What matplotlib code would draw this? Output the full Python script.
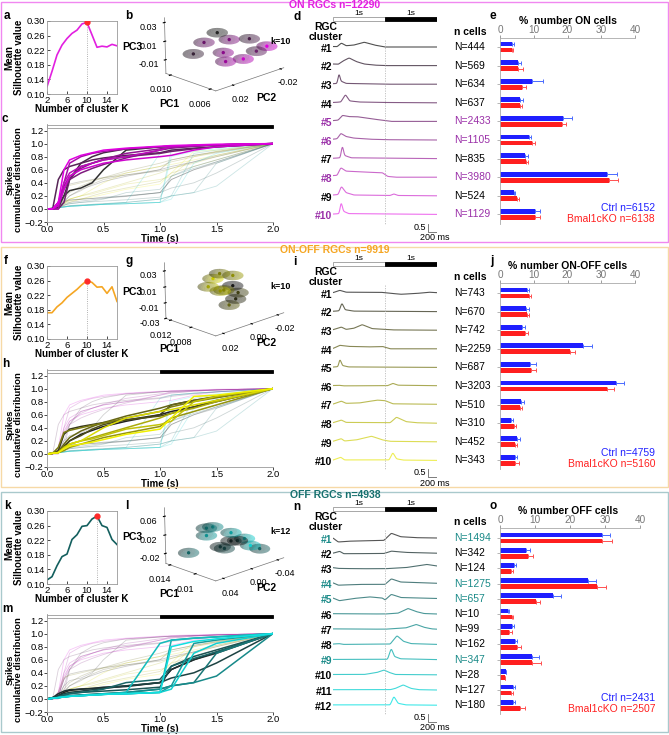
import numpy as np
import matplotlib
matplotlib.use("Agg")
import matplotlib.pyplot as plt
from matplotlib.colors import to_rgb
from matplotlib.patches import Rectangle
import matplotlib.transforms as mtransforms

plt.rcParams['font.family'] = ['Liberation Sans', 'DejaVu Sans']
plt.rcParams['font.size'] = 7

W, H = 669, 735

# ---------------- data ----------------
K = list(range(2, 17))
on_sil = [0.12, 0.162, 0.207, 0.234, 0.252, 0.266, 0.275, 0.292, 0.296, 0.262, 0.228, 0.231, 0.229, 0.236, 0.232]
onoff_sil = [0.172, 0.172, 0.188, 0.199, 0.214, 0.225, 0.236, 0.249, 0.26, 0.255, 0.242, 0.243, 0.225, 0.243, 0.203]
off_sil = [0.111, 0.12, 0.15, 0.175, 0.182, 0.222, 0.235, 0.258, 0.26, 0.278, 0.286, 0.26, 0.255, 0.222, 0.208]
best_k = [10, 10, 12]

on_n = [444, 569, 634, 637, 2433, 1105, 835, 3980, 524, 1129]
onoff_n = [743, 670, 742, 2259, 687, 3203, 510, 310, 452, 343]
off_n = [1494, 342, 124, 1275, 657, 10, 99, 162, 347, 28, 127, 180]

on_hl = [5, 6, 8, 10]
onoff_hl = []
off_hl = [1, 4, 5, 9]

on_ctrl = [3.5, 5.2, 9.6, 5.9, 18.8, 8.7, 7.5, 31.7, 4.0, 10.4]
on_ctrl_err = [0.6, 1.0, 3.2, 0.8, 2.5, 0.6, 0.9, 3.0, 0.5, 1.5]
on_ko = [3.5, 5.4, 6.4, 5.9, 18.3, 9.6, 7.6, 32.2, 5.0, 10.4]
on_ko_err = [0.4, 1.3, 1.4, 0.6, 1.3, 0.9, 0.7, 2.9, 0.6, 1.5]

onoff_ctrl = [7.9, 7.7, 6.6, 24.5, 8.9, 34.4, 6.1, 3.4, 5.1, 4.5]
onoff_ctrl_err = [0.8, 1.0, 0.9, 2.9, 1.7, 2.3, 1.0, 0.4, 0.7, 0.6]
onoff_ko = [8.5, 7.9, 7.5, 20.8, 9.1, 31.8, 6.0, 4.0, 4.5, 4.5]
onoff_ko_err = [0.6, 0.8, 0.8, 1.3, 1.6, 2.1, 0.6, 0.7, 0.6, 1.1]

off_ctrl = [29.0, 7.5, 3.9, 25.0, 15.1, 2.4, 3.4, 4.2, 9.1, 1.6, 3.8, 3.6]
off_ctrl_err = [2.4, 1.0, 0.8, 2.3, 2.2, 0.3, 0.7, 0.6, 2.1, 0.2, 0.6, 0.7]
off_ko = [29.2, 8.0, 3.2, 27.7, 10.3, 3.5, 2.7, 4.8, 9.1, 1.3, 3.2, 5.7]
off_ko_err = [2.7, 1.4, 0.5, 2.6, 1.1, 0.3, 0.6, 1.1, 2.5, 0.2, 0.4, 1.3]

n_ctrl = [6152, 4759, 2431]
n_ko = [6138, 5160, 2507]
n_total = [12290, 9919, 4938]

# response traces: (time s, normalised response) knots
on_traces = [
    [(0, 0.03), (0.08, 0.02), (0.16, 0.25), (0.25, 0.08), (0.4, 0.12), (0.6, 0.3), (0.8, 0.12), (1.0, 0.0), (2, 0.0)],
    [(0, 0.1), (0.1, 0.08), (0.2, 0.3), (0.31, 0.48), (0.45, 0.25), (0.6, 0.1), (0.8, 0.03), (1.0, 0.0), (2, 0.0)],
    [(0, 0.03), (0.08, 0.05), (0.115, 0.75), (0.15, 0.2), (0.25, 0.05), (1.0, 0.0), (2, 0.0)],
    [(0, 0.02), (0.15, 0.05), (0.24, 0.52), (0.32, 0.12), (0.5, 0.05), (1.0, 0.02), (2, 0.0)],
    [(0, 0.05), (0.1, 0.08), (0.18, 0.38), (0.3, 0.3), (0.45, 0.3), (0.7, 0.18), (1.0, 0.05), (1.1, 0.0), (2, 0.0)],
    [(0, 0.05), (0.08, 0.08), (0.15, 0.42), (0.25, 0.22), (0.4, 0.12), (0.7, 0.05), (1.0, 0.02), (2, 0.0)],
    [(0, 0.02), (0.14, 0.05), (0.18, 0.88), (0.22, 0.2), (0.35, 0.05), (2, 0.0)],
    [(0, 0.1), (0.08, 0.12), (0.15, 0.6), (0.25, 0.38), (0.6, 0.32), (0.95, 0.28), (1.05, 0.05), (1.2, 0.0), (2, 0.0)],
    [(0, 0.05), (0.1, 0.08), (0.16, 0.6), (0.25, 0.2), (0.4, 0.05), (1.1, 0.02), (1.17, 0.12), (1.25, 0.02), (2, 0.0)],
    [(0, 0.02), (0.12, 0.05), (0.155, 0.83), (0.2, 0.2), (0.3, 0.05), (2, 0.0)],
]
onoff_traces = [
    [(0, 0.02), (0.13, 0.17), (0.25, 0.05), (0.9, 0.05), (1.0, 0.02), (1.3, -0.08), (1.6, -0.03), (1.85, 0.05), (2, 0.02)],
    [(0, 0.02), (0.12, 0.05), (0.17, 0.56), (0.23, 0.12), (0.4, 0.03), (1.0, 0.02), (2, 0.0)],
    [(0, 0.03), (0.16, 0.2), (0.25, 0.05), (0.4, 0.12), (0.56, 0.35), (0.75, 0.1), (1.0, 0.05), (1.1, 0.02), (2, 0.0)],
    [(0, 0.02), (0.13, 0.22), (0.3, 0.15), (0.7, 0.12), (0.95, 0.15), (1.1, 0.0), (2, 0.0)],
    [(0, 0.02), (0.1, 0.05), (0.13, 0.56), (0.18, 0.12), (0.3, 0.03), (2, 0.0)],
    [(0, 0.03), (0.1, 0.05), (0.2, 0.01), (1.05, 0.02), (1.15, 0.17), (1.25, 0.05), (2, 0.02)],
    [(0, 0.03), (0.16, 0.22), (0.25, 0.08), (0.5, 0.1), (0.85, 0.28), (1.0, 0.25), (1.15, 0.05), (2, 0.02)],
    [(0, 0.03), (0.16, 0.2), (0.25, 0.05), (1.1, 0.03), (1.22, 0.38), (1.4, 0.1), (1.6, 0.03), (2, 0.0)],
    [(0, 0.03), (0.16, 0.2), (0.22, 0.05), (0.45, 0.12), (0.74, 0.35), (0.95, 0.12), (1.1, 0.03), (2, 0.0)],
    [(0, 0.02), (0.15, 0.2), (0.22, 0.03), (1.08, 0.03), (1.15, 0.5), (1.22, 0.1), (1.35, 0.02), (2, 0.0)],
]
off_traces = [
    [(0, 0.0), (0.1, -0.25), (0.3, -0.2), (0.98, -0.15), (1.12, 0.3), (1.3, 0.08), (1.6, 0.02), (2, 0.0)],
    [(0, 0.0), (0.13, 0.12), (0.2, -0.03), (0.98, -0.02), (1.12, 0.13), (1.4, 0.05), (2, 0.0)],
    [(0, 0.05), (0.1, 0.0), (0.5, -0.02), (1.0, -0.02), (1.4, 0.05), (1.8, 0.25), (2, 0.15)],
    [(0, 0.05), (0.1, -0.1), (0.5, -0.05), (1.0, -0.05), (1.12, 0.3), (1.3, 0.1), (2, 0.02)],
    [(0, 0.05), (0.12, -0.12), (0.4, 0.02), (0.7, 0.12), (0.95, 0.05), (1.0, -0.08), (1.12, 0.28), (1.3, 0.08), (2, 0.02)],
    [(0, 0.02), (1.0, 0.0), (1.25, 0.05), (1.44, 0.35), (1.6, 0.15), (1.75, 0.03), (2, 0.0)],
    [(0, 0.02), (1.0, 0.0), (1.4, 0.08), (1.6, 0.3), (1.75, 0.12), (1.9, 0.02), (2, 0.0)],
    [(0, 0.02), (0.12, 0.05), (0.2, 0.0), (1.1, 0.02), (1.23, 0.55), (1.35, 0.2), (1.5, 0.05), (2, 0.0)],
    [(0, 0.01), (1.05, 0.02), (1.12, 0.72), (1.18, 0.2), (1.3, 0.05), (2, 0.0)],
    [(0, 0.02), (0.6, 0.02), (0.85, 0.15), (0.98, 0.3), (1.08, 0.15), (1.2, 0.02), (2, 0.0)],
    [(0, 0.02), (1.1, 0.02), (1.2, 0.1), (1.35, 0.32), (1.5, 0.1), (1.65, 0.02), (2, 0.0)],
    [(0, 0.02), (1.1, 0.02), (1.17, 0.56), (1.25, 0.12), (1.4, 0.02), (2, 0.0)],
]

# cumulative spike distributions
cum_t = [0, 0.05, 0.1, 0.15, 0.2, 0.3, 0.4, 0.5, 0.7, 1.0, 1.1, 1.3, 1.5, 2.0]
on_cum = [
    [0, 0, 0.05, 0.2, 0.28, 0.32, 0.4, 0.6, 0.9, 0.95, 0.96, 0.97, 0.98, 1.0],
    [0, 0, 0.02, 0.2, 0.45, 0.7, 0.8, 0.86, 0.92, 0.95, 0.96, 0.97, 0.98, 1.0],
    [0, 0, 0.45, 0.6, 0.65, 0.7, 0.75, 0.78, 0.82, 0.86, 0.9, 0.93, 0.95, 1.0],
    [0, 0, 0, 0.1, 0.45, 0.65, 0.7, 0.75, 0.8, 0.85, 0.88, 0.92, 0.95, 1.0],
    [0, 0, 0.05, 0.3, 0.45, 0.55, 0.62, 0.68, 0.78, 0.9, 0.93, 0.96, 0.98, 1.0],
    [0, 0, 0.1, 0.35, 0.5, 0.62, 0.7, 0.76, 0.85, 0.92, 0.94, 0.96, 0.98, 1.0],
    [0, 0, 0, 0.4, 0.7, 0.8, 0.85, 0.88, 0.92, 0.95, 0.96, 0.97, 0.98, 1.0],
    [0, 0, 0.1, 0.4, 0.55, 0.65, 0.7, 0.75, 0.8, 0.9, 0.95, 0.97, 0.98, 1.0],
    [0, 0, 0.05, 0.3, 0.5, 0.6, 0.65, 0.7, 0.75, 0.8, 0.82, 0.9, 0.95, 1.0],
    [0, 0, 0.1, 0.6, 0.75, 0.82, 0.86, 0.9, 0.93, 0.96, 0.97, 0.98, 0.99, 1.0],
]
onoff_cum = [
    [0, 0.01, 0.03, 0.1, 0.2, 0.3, 0.36, 0.42, 0.5, 0.6, 0.65, 0.72, 0.8, 1.0],
    [0, 0.01, 0.05, 0.3, 0.38, 0.42, 0.45, 0.48, 0.52, 0.6, 0.75, 0.82, 0.87, 1.0],
    [0, 0.01, 0.03, 0.12, 0.2, 0.28, 0.38, 0.45, 0.52, 0.58, 0.62, 0.72, 0.82, 1.0],
    [0, 0.01, 0.03, 0.15, 0.25, 0.35, 0.42, 0.48, 0.58, 0.7, 0.75, 0.82, 0.88, 1.0],
    [0, 0.01, 0.1, 0.33, 0.36, 0.4, 0.44, 0.47, 0.55, 0.65, 0.72, 0.8, 0.86, 1.0],
    [0, 0.01, 0.02, 0.05, 0.1, 0.15, 0.2, 0.25, 0.32, 0.42, 0.55, 0.65, 0.75, 1.0],
    [0, 0.01, 0.02, 0.1, 0.15, 0.2, 0.25, 0.3, 0.4, 0.55, 0.62, 0.7, 0.8, 1.0],
    [0, 0.01, 0.02, 0.1, 0.15, 0.2, 0.23, 0.28, 0.38, 0.45, 0.5, 0.8, 0.88, 1.0],
    [0, 0.01, 0.02, 0.08, 0.15, 0.2, 0.3, 0.4, 0.55, 0.65, 0.68, 0.75, 0.82, 1.0],
    [0, 0.01, 0.02, 0.08, 0.12, 0.15, 0.18, 0.22, 0.3, 0.38, 0.55, 0.88, 0.9, 1.0],
]
off_cum = [
    [0, 0.02, 0.05, 0.1, 0.13, 0.15, 0.16, 0.17, 0.19, 0.25, 0.45, 0.6, 0.72, 1.0],
    [0, 0.02, 0.08, 0.12, 0.14, 0.15, 0.16, 0.18, 0.2, 0.25, 0.45, 0.6, 0.7, 1.0],
    [0, 0.02, 0.05, 0.08, 0.1, 0.12, 0.14, 0.16, 0.2, 0.25, 0.32, 0.4, 0.55, 1.0],
    [0, 0.01, 0.03, 0.06, 0.08, 0.1, 0.11, 0.12, 0.14, 0.18, 0.5, 0.65, 0.75, 1.0],
    [0, 0.01, 0.03, 0.06, 0.08, 0.1, 0.12, 0.15, 0.25, 0.3, 0.5, 0.62, 0.72, 1.0],
    [0, 0.01, 0.02, 0.04, 0.05, 0.06, 0.07, 0.08, 0.1, 0.15, 0.2, 0.25, 0.7, 1.0],
    [0, 0.01, 0.02, 0.03, 0.05, 0.06, 0.07, 0.08, 0.1, 0.15, 0.2, 0.25, 0.35, 1.0],
    [0, 0.01, 0.02, 0.03, 0.04, 0.05, 0.06, 0.07, 0.08, 0.1, 0.2, 0.85, 0.9, 1.0],
    [0, 0.01, 0.02, 0.03, 0.04, 0.05, 0.06, 0.07, 0.08, 0.1, 0.9, 0.93, 0.95, 1.0],
    [0, 0.01, 0.02, 0.03, 0.04, 0.05, 0.06, 0.07, 0.1, 0.85, 0.9, 0.93, 0.95, 1.0],
    [0, 0.01, 0.02, 0.03, 0.04, 0.05, 0.06, 0.07, 0.08, 0.1, 0.15, 0.7, 0.85, 1.0],
    [0, 0.01, 0.02, 0.03, 0.04, 0.05, 0.06, 0.07, 0.08, 0.1, 0.8, 0.88, 0.92, 1.0],
]

# PCA cluster centres (PC1, PC2, PC3)
on_pc1 = [0.00835, 0.00935, 0.0070, 0.0067, 0.0089, 0.00785, 0.0081, 0.0080, 0.00725, 0.00625]
on_pc2 = [0.0089, 0.0201, -0.0062, -0.0096, 0.0151, 0.0033, 0.0061, 0.0050, -0.0034, -0.0146]
on_pc3 = [0.017, -0.005, 0.009, -0.005, 0.007, 0.009, -0.005, -0.015, -0.013, 0.0]
onoff_pc1 = [0.00768, 0.00744, 0.00725, 0.00797, 0.00839, 0.00873, 0.00768, 0.00963, 0.00868, 0.00925]
onoff_pc2 = [-0.0030, -0.00425, -0.00525, -0.0015, 0.00075, 0.0025, -0.0030, 0.00725, 0.00225, 0.00525]
onoff_pc3 = [0.008, -0.009, -0.001, -0.0165, 0.003, 0.024, 0.021, 0.008, 0.002, 0.018]
off_pc1 = [0.01008, 0.0105, 0.0112, 0.01093, 0.00862, 0.01324, 0.01208, 0.0117, 0.01208, 0.0105, 0.00923, 0.00962]
off_pc2 = [-0.010, -0.0045, 0.0045, 0.001, -0.029, 0.031, 0.016, 0.0105, 0.016, -0.0045, -0.021, -0.016]
off_pc3 = [0.001, 0.001, -0.011, -0.015, -0.019, -0.021, 0.031, 0.033, 0.015, 0.019, -0.011, 0.005]

# ---------------- helpers ----------------
fig = plt.figure(figsize=(W / 100, H / 100), dpi=100)


def rect(x0, y0, x1, y1):
    return [x0 / W, 1 - y1 / H, (x1 - x0) / W, (y1 - y0) / H]


def ftext(x, y, s, **kw):
    kw.setdefault('va', 'center')
    fig.text(x / W, 1 - y / H, s, **kw)


def blend(c0, c1, n):
    a, b = np.array(to_rgb(c0)), np.array(to_rgb(c1))
    return [tuple(a * (1 - f) + b * f) for f in np.linspace(0, 1, n)]


def smooth_trace(knots):
    t = np.linspace(0, 2, 401)
    kt, kv = zip(*knots)
    v = np.interp(t, kt, kv)
    g = np.exp(-0.5 * (np.arange(-6, 7) / 2.5) ** 2)
    g /= g.sum()
    v = np.convolve(np.pad(v, 6, mode='edge'), g, mode='valid')
    return t, v


sections = [
    dict(off=0, title='ON RGCs n=12290', tcol='#E21FE0', border='#F088F0',
         sil=on_sil, silcol='#E21FE0', letters='abcde', cum=on_cum,
         cmap=('#303030', '#E000E0'), tcmap=('#505050', '#EE70EE'),
         traces=on_traces, n=on_n, hl=on_hl, hlcol='#9A2FA8',
         ctrl=on_ctrl, ctrl_err=on_ctrl_err, ko=on_ko, ko_err=on_ko_err,
         xlabel='%  number ON cells', r0=47, s=18.6, x40=635,
         pc=(on_pc1, on_pc2, on_pc3), pcl=((0.0055, 0.0105), (-0.023, 0.033), (-0.025, 0.035)),
         pct=([0.006, 0.010], [-0.02, 0.02], [-0.01, 0.01, 0.03]),
         pcf=('%.3f', '%.2f', '%.2f')),
    dict(off=245, title='ON-OFF RGCs n=9919', tcol='#F5A623', border='#F6D9A6',
         sil=onoff_sil, silcol='#F5A623', letters='fghij', cum=onoff_cum,
         cmap=('#202020', '#F0F000'), tcmap=('#555555', '#EEEE55'),
         traces=onoff_traces, n=onoff_n, hl=onoff_hl, hlcol='k',
         ctrl=onoff_ctrl, ctrl_err=onoff_ctrl_err, ko=onoff_ko, ko_err=onoff_ko_err,
         xlabel='% number ON-OFF cells', r0=48, s=18.6, x40=635,
         pc=(onoff_pc1, onoff_pc2, onoff_pc3), pcl=((0.0035, 0.013), (-0.025, 0.025), (-0.03, 0.04)),
         pct=([0.008, 0.012], [-0.02, 0.00, 0.02], [-0.03, -0.01, 0.01, 0.03]),
         pcf=('%.3f', '%.2f', '%.2f')),
    dict(off=490, title='OFF RGCs n=4938', tcol='#16706E', border='#A9C9CC',
         sil=off_sil, silcol='#135F5E', letters='klmno', cum=off_cum,
         cmap=('#202020', '#10E0E0'), tcmap=('#555555', '#40E8E8'),
         traces=off_traces, n=off_n, hl=off_hl, hlcol='#1A8A88',
         ctrl=off_ctrl, ctrl_err=off_ctrl_err, ko=off_ko, ko_err=off_ko_err,
         xlabel='% number OFF cells', r0=48, s=15.2, x40=640,
         pc=(off_pc1, off_pc2, off_pc3), pcl=((0.007, 0.0147), (-0.05, 0.05), (-0.042, 0.078)),
         pct=([0.01, 0.014], [-0.04, 0.00, 0.04], [-0.02, 0.02, 0.06]),
         pcf=('%g', '%.2f', '%.2f')),
]
all_cum = [on_cum, onoff_cum, off_cum]
all_cmaps = [sec['cmap'] for sec in sections]

for si, sec in enumerate(sections):
    o = sec['off']
    nrow = len(sec['n'])
    # border and title
    fig.patches.append(Rectangle((1 / W, 1 - (o + 242) / H), 667 / W, 240 / H,
                                 transform=fig.transFigure, fill=False,
                                 edgecolor=sec['border'], lw=1.0))
    ftext(335, o + 5, sec['title'], ha='center', color=sec['tcol'],
          fontweight='bold', fontsize=7.5)
    L = sec['letters']
    for (lx, ly), letter in zip([(4, 16), (125, 16), (2, 119), (293, 17), (490, 16)], L):
        ftext(lx, o + ly, letter, fontweight='bold', fontsize=8.5)

    # ---- 3D PCA ----
    ax3 = fig.add_axes(rect(121, o - 15, 327, o + 105), projection='3d')
    ax3.patch.set_alpha(0)
    ax3.set_box_aspect((1.36, 1, 0.8), zoom=1.08)
    cols3 = blend(sec['cmap'][0], sec['cmap'][1], nrow)
    p1, p2, p3 = sec['pc']
    (l1, l2, l3) = sec['pcl']
    u = np.linspace(0, 2 * np.pi, 26)
    v = np.linspace(0, np.pi, 14)
    r1, r2, r3 = (l1[1] - l1[0]) * 0.15, (l2[1] - l2[0]) * 0.11, (l3[1] - l3[0]) * 0.07
    for c1, c2, c3, col in zip(p1, p2, p3, cols3):
        xs = c2 + r2 * np.outer(np.cos(u), np.sin(v))
        ys = c1 + r1 * np.outer(np.sin(u), np.sin(v))
        zs = c3 + r3 * np.outer(np.ones_like(u), np.cos(v))
        ax3.plot_surface(xs, ys, zs, color=col, alpha=0.3, linewidth=0, shade=True)
    ax3.scatter(p2, p1, p3, c=cols3, s=2, depthshade=False)
    ax3.set_xlim(*l2)
    ax3.set_ylim(l1[1], l1[0])
    ax3.set_zlim(*l3)
    ax3.set_xticks(sec['pct'][1])
    ax3.set_yticks(sec['pct'][0])
    ax3.set_zticks(sec['pct'][2])
    ax3.set_xticklabels([sec['pcf'][1] % t for t in sec['pct'][1]])
    ax3.set_yticklabels([sec['pcf'][0] % t for t in sec['pct'][0]])
    ax3.set_zticklabels([sec['pcf'][2] % t for t in sec['pct'][2]])
    ax3.view_init(elev=16, azim=45)
    ax3.grid(False)
    for a in (ax3.xaxis, ax3.yaxis, ax3.zaxis):
        a.set_pane_color((1, 1, 1, 0))
        a.line.set_linewidth(0.5)
        a.line.set_color('#777777')
    ax3.tick_params(labelsize=6.5, pad=-2)
    ax3.set_xlabel('PC2', fontweight='bold', fontsize=7.5, labelpad=-9)
    ax3.set_ylabel('PC1', fontweight='bold', fontsize=7.5, labelpad=-9)
    ax3.set_zlabel('PC3', fontweight='bold', fontsize=7.5, labelpad=-9)
    ftext(270, o + 42, 'k=%d' % best_k[si], fontweight='bold', fontsize=6.5)

    # ---- silhouette ----
    ax = fig.add_axes(rect(47, o + 21, 117, o + 94))
    ax.plot(K, sec['sil'], color=sec['silcol'], lw=1.2)
    kb = best_k[si]
    yb = sec['sil'][K.index(kb)]
    ax.plot([kb, kb], [0.10, yb], ls=':', color='#999999', lw=0.6)
    ax.plot(kb, yb, 'o', color='#FF2A2A', ms=3.5, zorder=5)
    ax.set_xlim(2, 16)
    ax.set_ylim(0.10, 0.30)
    ax.set_xticks([2, 6, 10, 14])
    ax.set_yticks([0.10, 0.14, 0.18, 0.22, 0.26, 0.30])
    ax.set_yticklabels(['0.10', '0.14', '0.18', '0.22', '0.26', '0.30'])
    ax.tick_params(direction='in', length=2, width=0.5, pad=1.5, labelsize=6.8)
    for sp in ax.spines.values():
        sp.set_color('#999999')
        sp.set_linewidth(0.6)
    ax.set_xlabel('Number of cluster K', fontweight='bold', fontsize=7, labelpad=-0.5)
    ax.set_ylabel('Mean\nSilhouette value', fontweight='bold', fontsize=7,
                  labelpad=2, linespacing=0.95)

    # ---- cumulative ----
    ax = fig.add_axes(rect(47, o + 124, 273, o + 222))
    for sj in range(3):
        if sj == si:
            continue
        cc = blend(all_cmaps[sj][0], all_cmaps[sj][1], len(all_cum[sj]))
        for row, col in zip(all_cum[sj], cc):
            ax.plot(cum_t, row, color=col, lw=0.6, alpha=0.22)
    cc = blend(sec['cmap'][0], sec['cmap'][1], nrow)
    for row, col in zip(sec['cum'], cc):
        ax.plot(cum_t, row, color=col, lw=1.1)
    ax.add_patch(Rectangle((0, 1.24), 1, 0.045, facecolor='white', edgecolor='#999999', lw=0.6, clip_on=False))
    ax.add_patch(Rectangle((1, 1.24), 1, 0.045, facecolor='black', edgecolor='black', lw=0.6, clip_on=False))
    ax.set_xlim(0, 2)
    ax.set_ylim(-0.2, 1.3)
    ax.set_xticks([0, 0.5, 1.0, 1.5, 2.0])
    ax.set_xticklabels(['0.0', '0.5', '1.0', '1.5', '2.0'])
    ax.set_yticks(np.round(np.arange(-0.2, 1.21, 0.2), 1))
    ax.spines['top'].set_visible(False)
    ax.spines['right'].set_visible(False)
    for sp in ('left', 'bottom'):
        ax.spines[sp].set_color('#999999')
        ax.spines[sp].set_linewidth(0.6)
    ax.tick_params(length=2, width=0.5, pad=0.5, labelsize=6.8)
    ax.set_xlabel('Time (s)', fontweight='bold', fontsize=7, labelpad=-0.5)
    ax.set_ylabel('Spikes\ncumulative distribution', fontweight='bold', fontsize=6.8,
                  linespacing=0.95)
    ax.yaxis.set_label_coords(-0.105, 0.43)

    # ---- traces ----
    r0 = o + sec['r0']
    s = sec['s']
    top, bot = o + 8, o + 240

    def yd(py):
        return -(py - r0) / s

    ax = fig.add_axes(rect(333, top, 437, bot))
    ax.patch.set_alpha(0)
    ax.set_xlim(0, 2)
    ax.set_ylim(yd(bot), yd(top))
    ax.axis('off')
    tcols = blend(sec['tcmap'][0], sec['tcmap'][1], nrow)
    amp = 16.0 / s
    for i, (kn, col) in enumerate(zip(sec['traces'], tcols)):
        t, vv = smooth_trace(kn)
        ax.plot(t, -i + vv * amp, color=col, lw=0.8)
        lc = sec['hlcol'] if (i + 1) in sec['hl'] else 'black'
        ax.text(-0.02, -i - 0.1, '#%d' % (i + 1), ha='right', va='center',
                fontweight='bold', fontsize=7.5, color=lc)
    ax.plot([1, 1], [yd(o + 40), yd(o + 225)], ls=(0, (1.5, 1.5)), color='#BBBBBB', lw=0.6)
    ax.add_patch(Rectangle((0, yd(o + 21)), 1, 4 / s, facecolor='white', edgecolor='#999999', lw=0.6))
    ax.add_patch(Rectangle((1, yd(o + 21)), 1, 4 / s, facecolor='black', edgecolor='black', lw=0.6))
    ax.text(0.5, yd(o + 13.5), '1s', ha='center', va='center', fontsize=6)
    ax.text(1.5, yd(o + 13.5), '1s', ha='center', va='center', fontsize=6)
    ax.plot([1.83, 1.83, 2.0], [yd(o + 224), yd(o + 232), yd(o + 232)], color='#666666', lw=0.6)
    ax.text(1.8, yd(o + 228), '0.5', ha='right', va='center', fontsize=6.5)
    ax.text(1.96, yd(o + 238), '200 ms', ha='center', va='center', fontsize=6.5)
    ftext(326, o + 32, 'RGC\ncluster', ha='center', fontweight='bold', fontsize=7.5,
          linespacing=0.95)
    ftext(454, o + 32, 'n cells', ha='left', fontweight='bold', fontsize=7.5)

    # ---- bars ----
    btop, bbot = o + 38, o + 224
    ax = fig.add_axes(rect(500, btop, sec['x40'], bbot))
    ax.patch.set_alpha(0)
    ax.set_ylim(yd(bbot), yd(btop))
    ax.set_xlim(0, 40)
    ypos = -np.arange(nrow)
    bh = 4.8 / s
    dy = 3.0 / s
    ax.barh(ypos + dy, sec['ctrl'], height=bh, color='#1F1FFF', zorder=2)
    ax.barh(ypos - dy, sec['ko'], height=bh, color='#FF1F1F', zorder=2)
    ax.errorbar(sec['ctrl'], ypos + dy, xerr=[np.zeros(nrow), sec['ctrl_err']], fmt='none',
                ecolor='#4A6BFF', elinewidth=0.7, capsize=1.3, capthick=0.7)
    ax.errorbar(sec['ko'], ypos - dy, xerr=[np.zeros(nrow), sec['ko_err']], fmt='none',
                ecolor='#FF5050', elinewidth=0.7, capsize=1.3, capthick=0.7)
    ax.xaxis.tick_top()
    ax.set_xticks([0, 10, 20, 30, 40])
    ax.tick_params(axis='x', length=2, width=0.5, pad=0.5, labelsize=7.2, colors='#777777')
    ax.set_yticks(ypos)
    ax.set_yticklabels([])
    ax.tick_params(axis='y', length=2, width=0.5, colors='#999999')
    ax.spines['bottom'].set_visible(False)
    ax.spines['right'].set_visible(False)
    ax.spines['top'].set_color('#AAAAAA')
    ax.spines['left'].set_color('#AAAAAA')
    ax.spines['top'].set_linewidth(0.6)
    ax.spines['left'].set_linewidth(0.6)
    trans = mtransforms.blended_transform_factory(ax.transAxes, ax.transData)
    xf = (454 - 500) / (sec['x40'] - 500)
    for i, nv in enumerate(sec['n']):
        lc = sec['hlcol'] if (i + 1) in sec['hl'] else 'black'
        ax.text(xf, -i, 'N=%d' % nv, transform=trans, ha='left', va='center',
                fontsize=7.5, color=lc)
    ftext(568, o + 21, sec['xlabel'], ha='center', fontweight='bold', fontsize=7.5)
    ftext(655, o + 208, 'Ctrl n=%d' % n_ctrl[si], ha='right', color='#2020FF', fontsize=7.5)
    ftext(655, o + 219, 'Bmal1cKO n=%d' % n_ko[si], ha='right', color='#FF2020', fontsize=7.5)

fig.savefig('out.png', dpi=100)
